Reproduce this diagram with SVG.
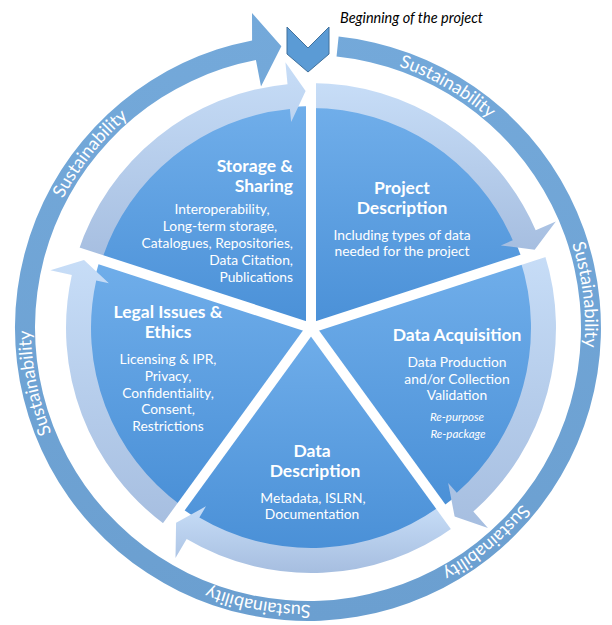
<svg xmlns="http://www.w3.org/2000/svg" width="612" height="625" viewBox="0 0 612 625">
<defs>
<linearGradient id="sliceGrad" x1="0" y1="0" x2="0" y2="1"><stop offset="0" stop-color="#70aeea"/><stop offset="1" stop-color="#4a90d7"/></linearGradient>
<linearGradient id="bandGrad" x1="0" y1="0" x2="0" y2="1"><stop offset="0" stop-color="#c7ddf7"/><stop offset="1" stop-color="#a6bee0"/></linearGradient>
<linearGradient id="ringGrad" x1="0" y1="0" x2="0" y2="1"><stop offset="0" stop-color="#74a9da"/><stop offset="1" stop-color="#6b9fd0"/></linearGradient>
<path id="ringText" d="M308,51 A277,277 0 1 1 308,605 A277,277 0 1 1 308,51"/>
<style>
.sector{fill:url(#sliceGrad)}
.band{fill:url(#bandGrad)}
.gap{stroke:#ffffff;stroke-width:10;fill:none}
.t{font-family:Lato,"Open Sans","Liberation Sans",sans-serif;fill:#ffffff;text-anchor:middle}
.title{font-size:17.5px;font-weight:bold}
.body{font-size:13.8px}
.small{font-size:11.5px;font-style:italic}
.end{text-anchor:end}
.sus{font-family:Lato,"Open Sans","Liberation Sans",sans-serif;font-size:18px;fill:#ffffff;text-anchor:middle}
</style>
</defs>
<rect width="612" height="625" fill="#ffffff"/>

<g id="connectors">
<path id="ring-arrow" fill="url(#ringGrad)" transform="translate(308,328)" d="M30.63,-291.39 A293,293 0 1 1 -55.91,-287.62 L-56,-315 L-26.63,-281.74 L-47,-241.5 L-52.09,-267.98 A273,273 0 1 0 28.54,-271.50 Z"/>
<text class="sus"><textPath href="#ringText" startOffset="145">Sustainability</textPath></text>
<text class="sus"><textPath href="#ringText" startOffset="402">Sustainability</textPath></text>
<text class="sus"><textPath href="#ringText" startOffset="678">Sustainability</textPath></text>
<text class="sus"><textPath href="#ringText" startOffset="920">Sustainability</textPath></text>
<text class="sus"><textPath href="#ringText" startOffset="1250">Sustainability</textPath></text>
<text class="sus"><textPath href="#ringText" startOffset="1492">Sustainability</textPath></text>
</g>

<g id="start-marker">
<polygon points="287,27 308,48 329,27 329,54 308,72 287,54" fill="#5b9bd5" stroke="#41719c" stroke-width="1"/>
<text x="340" y="23" font-family="Lato,'Open Sans','Liberation Sans',sans-serif" font-size="14.5" font-style="italic" fill="#000000">Beginning of the project</text>
</g>

<g id="project-description">
<path class="sector" transform="translate(311,328)" d="M0,0 L0,-222 A222,222 0 0 1 211.14,-68.60 Z"/>
<path class="band" transform="translate(311,328)" d="M0,-245 A245,245 0 0 1 224.68,-97.69 L244.86,-106.47 L223.68,-78.33 L189.83,-82.54 L201.75,-87.73 A220,220 0 0 0 0,-220 Z"/>
<text class="t title" x="402" y="194">Project</text>
<text class="t title" x="402" y="214">Description</text>
<text class="t body" x="402" y="240">Including types of data</text>
<text class="t body" x="402" y="256">needed for the project</text>
</g>

<g id="data-acquisition">
<path class="sector" transform="translate(311,328)" d="M0,0 L211.14,-68.60 A222,222 0 0 1 130.49,179.60 Z"/>
<path class="band" transform="translate(311,328)" d="M233.01,-75.71 A245,245 0 0 1 162.34,183.50 L176.92,199.97 L143.62,188.53 L137.16,155.03 L145.78,164.77 A220,220 0 0 0 209.23,-67.98 Z"/>
<text class="t title" x="457" y="341">Data Acquisition</text>
<text class="t body" x="457" y="367">Data Production</text>
<text class="t body" x="457" y="384">and/or Collection</text>
<text class="t body" x="457" y="400">Validation</text>
<text class="t small" x="457" y="421">Re-purpose</text>
<text class="t small" x="458" y="438">Re-package</text>
</g>

<g id="data-description">
<path class="sector" transform="translate(311,328)" d="M0,0 L130.49,179.60 A222,222 0 0 1 -130.49,179.60 Z"/>
<path class="band" transform="translate(311,328)" d="M144.01,198.21 A245,245 0 0 1 -124.35,211.10 L-135.51,230.06 L-134.92,194.85 L-105.06,178.36 L-111.66,189.56 A220,220 0 0 0 129.31,177.98 Z"/>
<text class="t title" x="312" y="457">Data</text>
<text class="t title" x="315" y="477">Description</text>
<text class="t body" x="313" y="503">Metadata, ISLRN,</text>
<text class="t body" x="312" y="519">Documentation</text>
</g>

<g id="legal-issues-ethics">
<path class="sector" transform="translate(311,328)" d="M0,0 L-130.49,179.60 A222,222 0 0 1 -211.14,-68.60 Z"/>
<path class="band" transform="translate(311,328)" d="M-144.01,198.21 A245,245 0 0 1 -239.19,-53.03 L-260.67,-57.79 L-227.00,-68.10 L-202.09,-44.80 L-214.79,-47.62 A220,220 0 0 0 -129.31,177.98 Z"/>
<text class="t title" x="168" y="318">Legal Issues &amp;</text>
<text class="t title" x="168" y="338">Ethics</text>
<text class="t body" x="168" y="364">Licensing &amp; IPR,</text>
<text class="t body" x="168" y="381">Privacy,</text>
<text class="t body" x="168" y="398">Confidentiality,</text>
<text class="t body" x="168" y="414">Consent,</text>
<text class="t body" x="168" y="431">Restrictions</text>
</g>

<g id="storage-sharing">
<path class="sector" transform="translate(311,328)" d="M0,0 L-211.14,-68.60 A222,222 0 0 1 0,-222 Z"/>
<path class="band" transform="translate(311,328)" d="M-233.01,-75.71 A245,245 0 0 1 -23.48,-243.87 L-25.59,-265.77 L-5.38,-236.94 L-19.84,-206.05 L-21.09,-218.99 A220,220 0 0 0 -209.23,-67.98 Z"/>
<text class="t title end" x="293" y="172">Storage &amp;</text>
<text class="t title end" x="293" y="192">Sharing</text>
<text class="t body" x="222" y="214">Interoperability,</text>
<text class="t body" x="220" y="231">Long-term storage,</text>
<text class="t body end" x="293" y="248">Catalogues, Repositories,</text>
<text class="t body end" x="293" y="265">Data Citation,</text>
<text class="t body end" x="293" y="282">Publications</text>
</g>

<g id="separators" transform="translate(311,328)">
<line class="gap" x1="0" y1="0" x2="0" y2="-250"/>
<line class="gap" x1="0" y1="0" x2="237.77" y2="-77.26"/>
<line class="gap" x1="0" y1="0" x2="146.95" y2="202.26"/>
<line class="gap" x1="0" y1="0" x2="-146.95" y2="202.26"/>
<line class="gap" x1="0" y1="0" x2="-237.77" y2="-77.26"/>
</g>
</svg>
